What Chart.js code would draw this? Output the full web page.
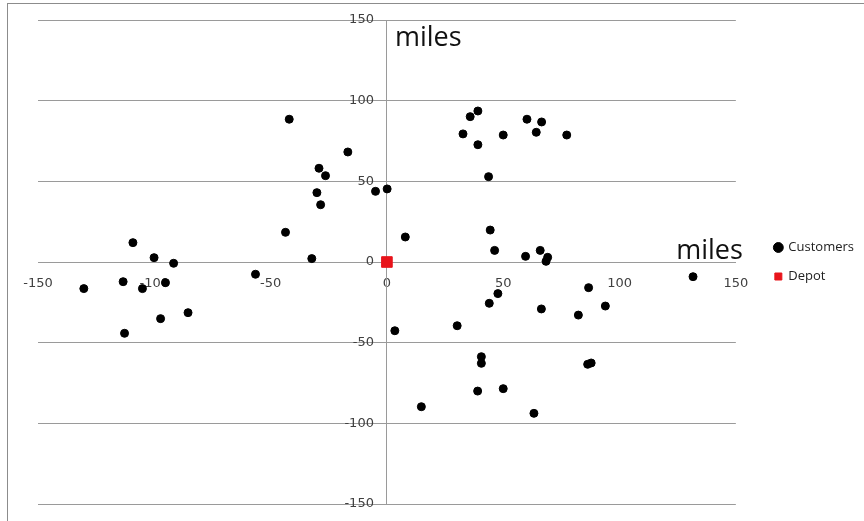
<!DOCTYPE html>
<html>
<head>
<meta charset="utf-8">
<title>Customers and depot</title>
<script src="https://cdn.jsdelivr.net/npm/chart.js@4.4.1/dist/chart.umd.min.js"></script>
<style>
  html, body { margin: 0; padding: 0; background: #fff; overflow: hidden; }
  #wrap { position: relative; width: 864px; height: 521px; }
  #frame {
    position: absolute; left: 7px; top: 3px;
    width: 900px; height: 600px;
    border: 1px solid #8c8c8c;
    pointer-events: none;
  }
</style>
</head>
<body>
<div id="wrap">
  <canvas id="scatter" width="864" height="521"></canvas>
  <div id="frame"></div>
</div>
<script>
// customer locations, miles from the depot
const customerX = [
  -42.0, 32.7, 35.8, 39.1, 39.1, 43.7, 50.0, 60.2, 66.5, 64.2, 77.3,
  -16.8, -29.2, -26.4, -30.1, -4.9, 0.1, -28.5, -43.6, -32.3, 7.9,
  44.4, 46.3, 59.6, 65.9, 69.1, 68.4, 47.7, 44.0, 66.4, 82.3, 30.2,
  3.4, 40.6, 40.6, 39.0, 50.0, 14.8, 63.2,
  -109.2, -100.1, -91.7, -56.5, -113.4, -95.2, -105.1, -130.3, -85.5, -97.3, -112.8,
  131.6, 86.7, 93.9, 86.3, 87.8
];
const customerY = [
  88.5, 79.4, 90.1, 93.6, 72.7, 52.9, 78.7, 88.5, 86.8, 80.4, 78.7,
  68.2, 58.1, 53.5, 43.0, 43.8, 45.3, 35.5, 18.4, 2.1, 15.5,
  19.8, 7.2, 3.5, 7.2, 2.9, 0.4, -19.6, -25.6, -29.1, -32.9, -39.5,
  -42.6, -58.7, -62.8, -80.0, -78.5, -89.7, -93.8,
  12.0, 2.7, -0.8, -7.6, -12.2, -12.8, -16.5, -16.5, -31.4, -35.1, -44.2,
  -9.1, -15.9, -27.3, -63.4, -62.6
];
const depotX = [0];
const depotY = [0];
const tickValues = [-150, -100, -50, 0, 50, 100, 150];

const toPoints = (xs, ys) => xs.map((x, i) => ({ x: x, y: ys[i] }));

const gridGray = '#9a9a9a';
const tickFont = { family: 'DejaVu Sans', size: 13 };

// empty box on the right so the legend sits a bit away from the plot
const legendGap = {
  id: 'legendGap',
  beforeInit(chart) {
    Chart.layouts.addBox(chart, {
      position: 'right',
      weight: 500,
      fullSize: false,
      options: {},
      isHorizontal: () => false,
      update(maxWidth, maxHeight) {
        this.width = 23;
        this.height = maxHeight;
      },
      draw() {}
    });
  }
};

// "miles" captions next to each axis
const axisTitles = {
  id: 'axisTitles',
  afterDraw(chart) {
    const { ctx, chartArea, scales } = chart;
    ctx.save();
    ctx.font = '27px "Open Sans"';
    ctx.fillStyle = '#111';
    ctx.textBaseline = 'alphabetic';
    ctx.textAlign = 'left';
    ctx.fillText('miles', scales.x.getPixelForValue(0) + 8, chartArea.top + 26);
    ctx.textAlign = 'right';
    ctx.fillText('miles', chartArea.right + 7, scales.y.getPixelForValue(0) - 3);
    ctx.restore();
  }
};

new Chart(document.getElementById('scatter'), {
  type: 'scatter',
  data: {
    datasets: [
      {
        label: 'Customers',
        data: toPoints(customerX, customerY),
        pointStyle: 'circle',
        pointRadius: 4,
        borderWidth: 1,
        backgroundColor: '#000',
        borderColor: '#000'
      },
      {
        label: 'Depot',
        data: toPoints(depotX, depotY),
        pointStyle: 'rect',
        pointRadius: 7.5,
        borderWidth: 1,
        backgroundColor: '#e8141b',
        borderColor: '#e8141b'
      }
    ]
  },
  options: {
    responsive: false,
    animation: false,
    layout: { padding: { left: 38, top: 20, right: 0, bottom: 17 } },
    plugins: {
      tooltip: { enabled: false },
      legend: {
        position: 'right',
        labels: {
          usePointStyle: true,
          boxWidth: 7,
          boxHeight: 7,
          padding: 16,
          color: '#222',
          font: { family: 'Open Sans', size: 13 }
        }
      }
    },
    scales: {
      x: {
        type: 'linear',
        position: { y: 0 },
        min: -150,
        max: 150,
        afterBuildTicks: axis => { axis.ticks = tickValues.map(v => ({ value: v })); },
        grid: { display: false, drawTicks: false },
        border: { color: gridGray },
        ticks: { color: '#404040', font: tickFont, padding: 14, maxRotation: 0 }
      },
      y: {
        type: 'linear',
        // x runs -150..150, so the centre of the plot is x = 0
        position: 'center',
        min: -150,
        max: 150,
        afterBuildTicks: axis => { axis.ticks = tickValues.map(v => ({ value: v })); },
        grid: { color: gridGray, drawTicks: true, tickLength: 13, tickColor: 'rgba(0,0,0,0)' },
        border: { color: gridGray },
        ticks: { color: '#404040', font: tickFont, padding: 0 }
      }
    }
  },
  plugins: [legendGap, axisTitles]
});
</script>
</body>
</html>
